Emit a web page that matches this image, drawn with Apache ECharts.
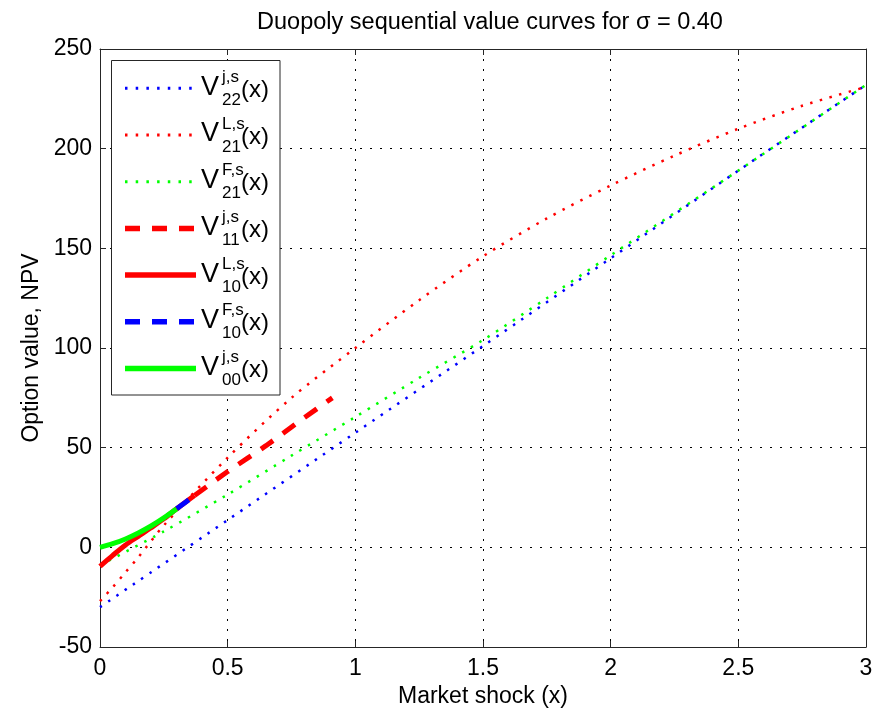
<html>
<head>
<meta charset="utf-8" />
<title>Duopoly sequential value curves</title>
<script src="https://cdn.jsdelivr.net/npm/echarts@6/dist/echarts.min.js"></script>
<style type="text/css">
html, body { margin: 0; padding: 0; background: #fff; }
#echarts { width: 882px; height: 713px; }
</style>
</head>
<body>
<div id="echarts"></div>
<script type="text/javascript">

// values
var xV22 = [0, 0.5, 1, 1.5, 2, 2.5, 3];
var yV22 = [-30, 13.7, 57.5, 101, 145, 189, 232];

var xV21L = [0, 0.05, 0.1, 0.15, 0.25, 0.5, 0.75, 1, 1.25, 1.5, 1.75, 2, 2.25, 2.5, 2.75, 3];
var yV21L = [-27, -20, -12.5, -5, 11, 45, 75, 100, 124, 146, 165, 181.5, 196.5, 210, 221.5, 231];

var xV21F = [0, 0.25, 0.5, 0.75, 1, 1.25, 1.5, 1.75, 2, 2.5, 3];
var yV21F = [-9, 8, 26.5, 46, 65.4, 85, 104, 125, 146.5, 189, 232];

var xV11 = [0.37, 0.5, 0.65, 0.8, 0.91];
var yV11 = [26, 38, 51, 65, 75];

var xV10L = [0, 0.05, 0.1, 0.15, 0.2, 0.25, 0.3, 0.37];
var yV10L = [-9.5, -4, 1.2, 5.5, 9.8, 14.3, 19.3, 26];

var xV10F = [0.3, 0.37];
var yV10F = [19.3, 26];

var xV00 = [0, 0.05, 0.1, 0.15, 0.2, 0.25, 0.3];
var yV00 = [0, 1.8, 4.2, 7.2, 10.7, 14.8, 19.3];

// legend text: superscript / subscript of each V
var legSup = ['j,s', 'L,s', 'F,s', 'j,s', 'L,s', 'F,s', 'j,s'];
var legSub = ['22', '21', '21', '11', '10', '10', '00'];

var FONT = 'Liberation Sans, Arial, sans-serif';
var DOT = [2.5, 7.5];
var DASH = [15, 12];

var styles = [
    {color: '#0000ff', width: 2.5, type: DOT},
    {color: '#ff0000', width: 2.5, type: DOT},
    {color: '#00ff00', width: 2.5, type: DOT},
    {color: '#ff0000', width: 5, type: DASH},
    {color: '#ff0000', width: 5, type: 'solid'},
    {color: '#0000ff', width: 5, type: DASH},
    {color: '#00ff00', width: 5, type: 'solid'}
];
var xs = [xV22, xV21L, xV21F, xV11, xV10L, xV10F, xV00];
var ys = [yV22, yV21L, yV21F, yV11, yV10L, yV10F, yV00];

function pairs(x, y) {
    var out = [];
    for (var i = 0; i < x.length; i++) out.push([x[i], y[i]]);
    return out;
}

var series = [];
for (var k = 0; k < xs.length; k++) {
    series.push({
        type: 'line',
        data: pairs(xs[k], ys[k]),
        smooth: 0.3,
        symbol: 'none',
        silent: true,
        lineStyle: {color: styles[k].color, width: styles[k].width, type: styles[k].type}
    });
}

// legend box drawn by hand (stacked super/subscripts)
var graphic = [{
    type: 'rect',
    shape: {x: 111.5, y: 60.5, width: 168.5, height: 334.5},
    style: {fill: '#fff', stroke: '#262626', lineWidth: 1},
    z: 100
}];
for (var r = 0; r < 7; r++) {
    var ry = 88.3 + 46.7 * r;
    var st = styles[r];
    var dash = st.type === 'solid' ? null : (st.type === DOT ? [2.5, 8.2] : st.type);
    graphic.push({
        type: 'line',
        shape: {x1: 125, y1: ry, x2: 196, y2: ry},
        style: {stroke: st.color, lineWidth: st.width === 5 ? 5.5 : 3, lineDash: dash},
        z: 101
    });
    graphic.push({type: 'text', x: 201, y: ry - 1, z: 101,
        style: {text: 'V', font: '27px ' + FONT, fill: '#000', verticalAlign: 'middle'}});
    graphic.push({type: 'text', x: 222, y: ry - 11, z: 101,
        style: {text: legSup[r], font: '17px ' + FONT, fill: '#000', verticalAlign: 'middle'}});
    graphic.push({type: 'text', x: 222, y: ry + 12, z: 101,
        style: {text: legSub[r], font: '17px ' + FONT, fill: '#000', verticalAlign: 'middle'}});
    graphic.push({type: 'text', x: 241, y: ry + 2, z: 101,
        style: {text: '(x)', font: '24px ' + FONT, fill: '#000', verticalAlign: 'middle'}});
}

var axisLine = {show: true, onZero: false, lineStyle: {color: '#262626', width: 1}};
var axisTick = {show: true, inside: true, length: 6, lineStyle: {color: '#262626'}};
var gridDots = {show: true, lineStyle: {color: '#000', width: 1, type: [2, 8]}};
var label = {color: '#000', fontSize: 23, fontFamily: FONT};

var myChart = echarts.init(document.getElementById('echarts'));
myChart.setOption({
    animation: false,
    backgroundColor: '#fff',
    textStyle: {fontFamily: FONT},
    title: {
        text: 'Duopoly sequential value curves for σ = 0.40',
        left: 485,
        top: 6,
        textAlign: 'center',
        textStyle: {color: '#000', fontSize: 23.5, fontWeight: 'normal', fontFamily: FONT}
    },
    grid: {left: 100, right: 16, top: 49, bottom: 61, containLabel: false},
    xAxis: [{
        type: 'value', position: 'bottom', min: 0, max: 3, interval: 0.5,
        axisLine: axisLine, axisTick: axisTick, splitLine: gridDots,
        axisLabel: Object.assign({margin: 10}, label),
        name: 'Market shock (x)', nameLocation: 'middle', nameGap: 38,
        nameTextStyle: label
    }, {
        type: 'value', position: 'top', min: 0, max: 3, interval: 0.5,
        axisLine: axisLine, axisTick: axisTick, axisLabel: {show: false}, splitLine: {show: false}
    }],
    yAxis: [{
        type: 'value', position: 'left', min: -50, max: 250, interval: 50,
        axisLine: axisLine, axisTick: axisTick, splitLine: gridDots,
        axisLabel: Object.assign({margin: 8}, label),
        name: 'Option value, NPV', nameLocation: 'middle', nameGap: 56,
        nameTextStyle: label
    }, {
        type: 'value', position: 'right', min: -50, max: 250, interval: 50,
        axisLine: axisLine, axisTick: axisTick, axisLabel: {show: false}, splitLine: {show: false}
    }],
    series: series,
    graphic: graphic
});

</script>
</body>
</html>
